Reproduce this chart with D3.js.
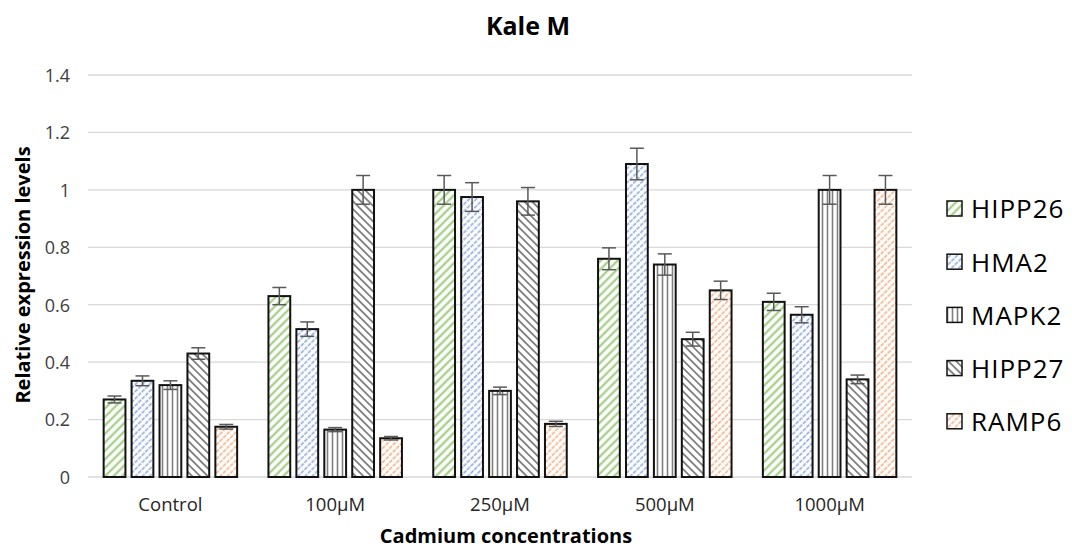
<!DOCTYPE html>
<html><head><meta charset="utf-8">
<script src="https://cdn.jsdelivr.net/npm/d3@7"></script>
<style>body{margin:0;background:#fff;} svg{display:block;}</style>
</head><body>
<svg id="c" width="1072" height="549"></svg>
<script>
const categories = ["Control","100\u00b5M","250\u00b5M","500\u00b5M","1000\u00b5M"];
const seriesNames = ["HIPP26","HMA2","MAPK2","HIPP27","RAMP6"];
const HIPP26 = [0.27,0.63,1.00,0.76,0.61];
const HMA2   = [0.335,0.515,0.975,1.09,0.565];
const MAPK2  = [0.32,0.165,0.30,0.74,1.00];
const HIPP27 = [0.43,1.00,0.96,0.48,0.34];
const RAMP6  = [0.175,0.135,0.185,0.65,1.00];
const HIPP26_err = [0.012,0.03,0.05,0.038,0.03];
const HMA2_err   = [0.017,0.025,0.05,0.055,0.028];
const MAPK2_err  = [0.015,0.007,0.013,0.037,0.05];
const HIPP27_err = [0.02,0.05,0.048,0.024,0.015];
const RAMP6_err  = [0.008,0.006,0.009,0.032,0.05];
const yTicks = [0,0.2,0.4,0.6,0.8,1,1.2,1.4];

const values = [HIPP26,HMA2,MAPK2,HIPP27,RAMP6];
const errs = [HIPP26_err,HMA2_err,MAPK2_err,HIPP27_err,RAMP6_err];

const svg = d3.select("#c");
const font = "'Open Sans', Calibri, sans-serif";
const defs = svg.append("defs");

function diag(id, color, w, size, angle, dash){
  const p = defs.append("pattern").attr("id",id).attr("patternUnits","userSpaceOnUse")
    .attr("width",size).attr("height",size).attr("patternTransform",`rotate(${angle})`);
  p.append("rect").attr("width",size).attr("height",size).attr("fill","#fff");
  const l = p.append("line").attr("x1",size/2).attr("y1",0).attr("x2",size/2).attr("y2",size)
    .attr("stroke",color).attr("stroke-width",w);
  if(dash) l.attr("stroke-dasharray",dash);
}
diag("p0","#a9d18e",2.4,6,45,null);
diag("p1","#8faadc",1.6,5,45,"2,1");
diag("p2","#7f7f7f",1.6,5,0,null);
diag("p3","#666666",1.5,5.5,-45,null);
diag("p4","#f4b183",1.6,5,45,"2,1");

const x0 = d3.scaleBand().domain(categories).range([88,912]).paddingInner(0.19).paddingOuter(0.095);
const x1 = d3.scaleBand().domain(seriesNames).range([0,x0.bandwidth()]).paddingInner(0.22);
const y = d3.scaleLinear().domain([0,1.4]).range([477,75]);

// grid
svg.append("g").selectAll("line").data(yTicks).join("line")
  .attr("x1",88).attr("x2",912).attr("y1",d=>y(d)).attr("y2",d=>y(d))
  .attr("stroke","#d9d9d9").attr("stroke-width",1.3);

// y axis labels
const yAxis = d3.axisLeft(y).tickValues(yTicks).tickSize(0).tickPadding(0).tickFormat(d=>String(d));
const ya = svg.append("g").attr("transform","translate(70,0)").call(yAxis);
ya.select(".domain").remove();
ya.selectAll("text").attr("font-family",font).attr("font-size",18).attr("fill","#404040").attr("dy","0.35em");

// x axis labels
const xAxis = d3.axisBottom(x0).tickSize(0).tickPadding(0);
const xa = svg.append("g").attr("transform","translate(0,498)").call(xAxis);
xa.select(".domain").remove();
xa.selectAll("text").attr("font-family",font).attr("font-size",18.5).attr("fill","#262626").attr("dy","0.72em");

// bars
const g = svg.append("g");
seriesNames.forEach((s,si)=>{
  const grp = g.append("g");
  grp.selectAll("rect").data(categories).join("rect")
    .attr("x",(c)=>x0(c)+x1(s)).attr("width",x1.bandwidth())
    .attr("y",(c,i)=>y(values[si][i])).attr("height",(c,i)=>y(0)-y(values[si][i]))
    .attr("fill",`url(#p${si})`).attr("stroke","#111").attr("stroke-width",2);
});
// error bars
seriesNames.forEach((s,si)=>{
  const grp = g.append("g").attr("stroke","#595959").attr("stroke-width",1.5);
  categories.forEach((c,i)=>{
    const cx = x0(c)+x1(s)+x1.bandwidth()/2;
    const v = values[si][i], e = errs[si][i];
    grp.append("line").attr("x1",cx).attr("x2",cx).attr("y1",y(v+e)).attr("y2",y(v-e));
    grp.append("line").attr("x1",cx-7).attr("x2",cx+7).attr("y1",y(v+e)).attr("y2",y(v+e));
    grp.append("line").attr("x1",cx-7).attr("x2",cx+7).attr("y1",y(v-e)).attr("y2",y(v-e));
  });
});

// title
svg.append("text").attr("x",528).attr("y",35).attr("text-anchor","middle")
  .attr("font-family",font).attr("font-weight","bold").attr("font-size",25).attr("fill","#000").text("Kale M");
// axis titles
svg.append("text").attr("x",506).attr("y",543).attr("text-anchor","middle")
  .attr("font-family",font).attr("font-weight","bold").attr("font-size",20).attr("fill","#000").text("Cadmium concentrations");
svg.append("text").attr("transform","translate(30,275) rotate(-90)").attr("text-anchor","middle")
  .attr("font-family",font).attr("font-weight","bold").attr("font-size",20).attr("fill","#000").text("Relative expression levels");

// legend
const leg = svg.append("g");
seriesNames.forEach((s,si)=>{
  const yy = 209 + si*53.2;
  leg.append("rect").attr("x",947).attr("y",yy-8).attr("width",15).attr("height",15)
    .attr("fill",`url(#p${si})`).attr("stroke","#111").attr("stroke-width",1.5);
  leg.append("text").attr("x",971).attr("y",yy).attr("dy","0.36em").attr("letter-spacing",1)
    .attr("font-family",font).attr("font-size",26).attr("fill","#000").text(s);
});
</script>
</body></html>
